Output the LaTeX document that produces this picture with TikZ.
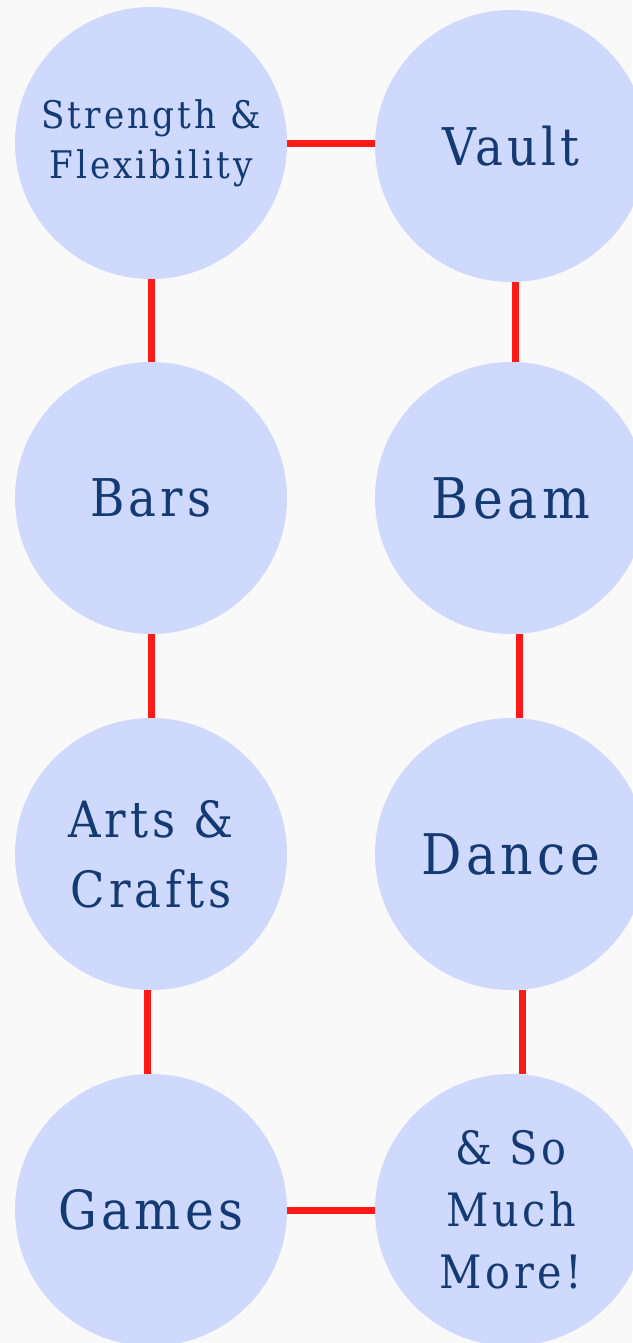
\documentclass[tikz,border=0pt]{standalone}
\usepackage{fontspec}
\setmainfont{DejaVu Serif Condensed}[LetterSpace=8]
\definecolor{bgc}{HTML}{F9F9F9}
\definecolor{disc}{HTML}{CED9FD}
\definecolor{ink}{HTML}{143A73}
\definecolor{link}{HTML}{FF1A1A}
\begin{document}
\begin{tikzpicture}[x=0.5pt,y=-0.5pt,
  topic/.style={circle, fill=disc, draw=none, minimum size=136pt, inner sep=0pt,
    text=ink, align=center},
  joiner/.style={draw=link, line width=3.5pt}]
  \fill[bgc] (0,0) rectangle (632,1343);
  \useasboundingbox (0,0) rectangle (632,1343);

  % left column
  \node[topic, font=\fontsize{19}{25}\selectfont] (str) at (151,143) {Strength \&\\Flexibility};
  \node[topic, font=\fontsize{26}{33}\selectfont] (bars) at (151,498) {Bars};
  \node[topic, font=\fontsize{25}{35}\selectfont] (arts) at (151,854) {Arts \&\\Crafts};
  \node[topic, font=\fontsize{27}{33}\selectfont] (games) at (151,1210) {Games};

  % right column
  \node[topic, font=\fontsize{26}{31}\selectfont] (vault) at (511,146) {Vault};
  \node[topic, font=\fontsize{28}{34}\selectfont] (beam) at (511,498) {Beam};
  \node[topic, font=\fontsize{28}{34}\selectfont] (dance) at (511,854) {Dance};
  \node[topic, font=\fontsize{23}{31}\selectfont] (more) at (511,1210) {\& So\\Much\\More!};

  % links between the topics
  \draw[joiner] (str.east) -- (vault.west |- str.east);
  \draw[joiner] (str) -- (bars);
  \draw[joiner] (bars) -- (arts);
  \draw[joiner] ([xshift=-2pt]arts.south) -- ([xshift=-2pt]games.north);
  \draw[joiner] (games) -- (more);
  \draw[joiner] ([xshift=2pt]vault.south) -- ([xshift=2pt]beam.north);
  \draw[joiner] ([xshift=4pt]beam.south) -- ([xshift=4pt]dance.north);
  \draw[joiner] ([xshift=5.5pt]dance.south) -- ([xshift=5.5pt]more.north);
\end{tikzpicture}
\end{document}
